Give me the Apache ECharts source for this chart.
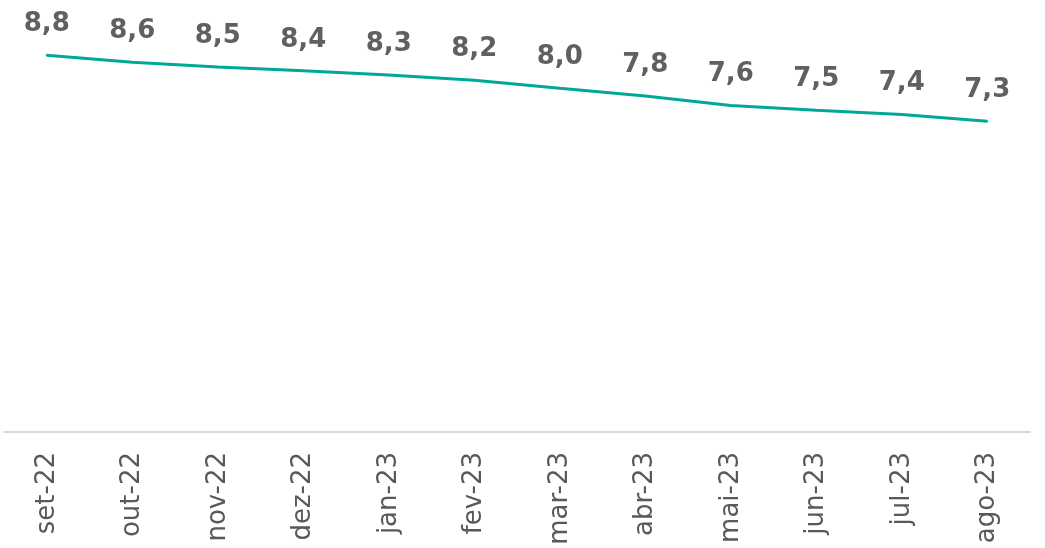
<!DOCTYPE html>
<html>
<head>
<meta charset="utf-8">
<script src="https://cdn.jsdelivr.net/npm/echarts@6/dist/echarts.min.js"></script>
<style>html,body{margin:0;padding:0;background:#fff}#c{width:1045px;height:548px}</style>
</head>
<body>
<div id="c"></div>
<script>
const categories = ['set-22','out-22','nov-22','dez-22','jan-23','fev-23','mar-23','abr-23','mai-23','jun-23','jul-23','ago-23'];
const values = [8.8, 8.64, 8.53, 8.44, 8.34, 8.22, 8.03, 7.85, 7.63, 7.52, 7.42, 7.26];

const chart = echarts.init(document.getElementById('c'));
chart.setOption({
  animation: false,
  grid: { left: 4, right: 15, top: 4, bottom: 116 },
  xAxis: {
    type: 'category',
    data: categories,
    boundaryGap: true,
    axisLine: { lineStyle: { color: '#d9d9d9', width: 2 } },
    axisTick: { show: false },
    axisLabel: { rotate: 90, fontSize: 26, color: '#595959', fontFamily: 'DejaVu Sans', margin: 20 }
  },
  yAxis: {
    type: 'value', min: 0, max: 10,
    show: false,
    splitLine: { show: false }
  },
  series: [{
    type: 'line',
    data: values,
    symbol: 'circle',
    symbolSize: 2,
    showSymbol: true,
    itemStyle: { color: '#00A89A' },
    lineStyle: { color: '#00A89A', width: 3 },
    label: {
      show: true, position: 'top', distance: 17,
      fontSize: 26, fontWeight: 'bold', color: '#606060', fontFamily: 'DejaVu Sans',
      formatter: p => p.value.toFixed(1).replace('.', ',')
    }
  }]
});
</script>
</body>
</html>
